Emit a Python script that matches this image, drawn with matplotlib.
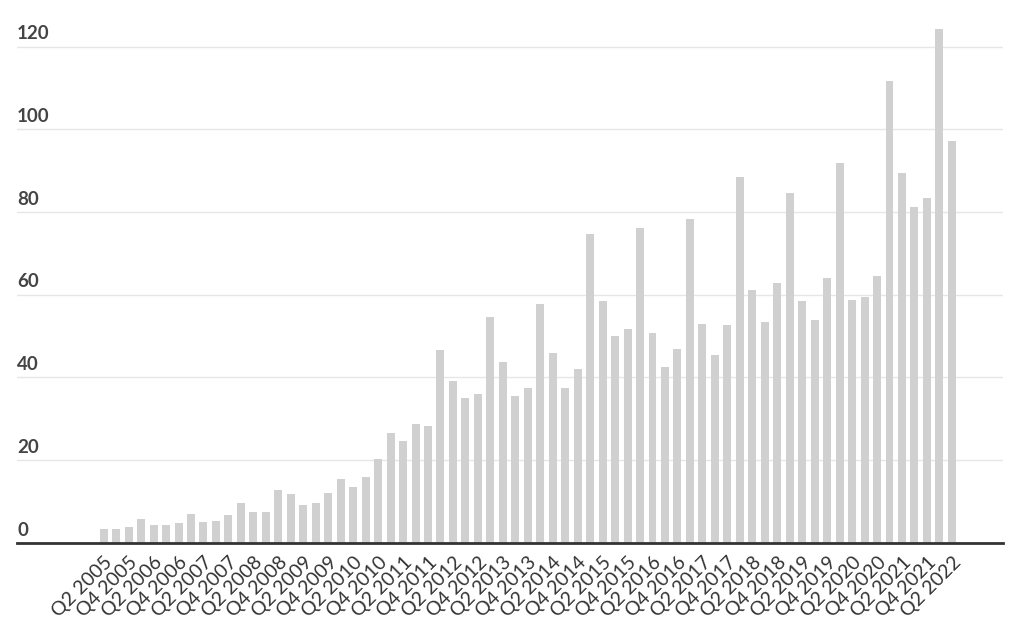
import matplotlib

matplotlib.use("Agg")
import matplotlib.pyplot as plt
import matplotlib.transforms as mtransforms

plt.rcParams["font.family"] = ["Lato", "DejaVu Sans"]

# quarterly counts, Q2 2005 .. Q2 2022
values = [
    3.3, 3.3, 3.7, 5.7, 4.4, 4.4, 4.7, 7.0, 5.0, 5.3,
    6.7, 9.7, 7.4, 7.4, 12.7, 11.7, 9.1, 9.7, 12.1, 15.4,
    13.4, 15.8, 20.2, 26.6, 24.5, 28.6, 28.3, 46.5, 39.1, 35.1,
    36.0, 54.7, 43.8, 35.4, 37.4, 57.7, 45.9, 37.4, 42.1, 74.6,
    58.4, 49.9, 51.6, 76.0, 50.6, 42.5, 46.9, 78.3, 53.0, 45.5,
    52.6, 88.5, 61.1, 53.3, 62.8, 84.5, 58.4, 53.9, 64.1, 91.8,
    58.6, 59.4, 64.5, 111.7, 89.4, 81.3, 83.3, 124.2, 97.2,
]
quarters = [f"Q{(1 + i) % 4 + 1} {2005 + (1 + i) // 4}" for i in range(len(values))]
y_ticks = [0, 20, 40, 60, 80, 100, 120]

W, H = 1024, 629
fig = plt.figure(figsize=(W / 100, H / 100), dpi=100)
px_per_unit = 4.135
ax = fig.add_axes([17 / W, 1 - 542.7 / H, 986 / W, 128 * px_per_unit / H])

x = list(range(len(values)))
ax.bar(x, values, width=0.64, color="#d0d0d0", zorder=2)
ax.set_xlim(-6.95, 72.1)
ax.set_ylim(0, 128)

for s in ["top", "right", "left"]:
    ax.spines[s].set_visible(False)
ax.spines["bottom"].set_color("#333333")
ax.spines["bottom"].set_linewidth(2)
ax.spines["bottom"].set_zorder(3)

ax.set_yticks(y_ticks)
ax.set_yticklabels([])
ax.tick_params(axis="y", length=0)
ax.grid(axis="y", color="#e6e6e6", linewidth=1, zorder=0)

trans = mtransforms.blended_transform_factory(ax.transAxes, ax.transData)
offset = mtransforms.ScaledTranslation(0, 3 / 72, fig.dpi_scale_trans)
for v in y_ticks:
    ax.text(0, v, str(v), transform=trans + offset, ha="left", va="bottom",
            fontsize=13.5, color="#444444", fontweight="bold")

ax.set_xticks(x[::2])
ax.set_xticklabels(quarters[::2], rotation=45, ha="right", va="top",
                   rotation_mode="anchor", fontsize=14, color="#333333")
ax.tick_params(axis="x", length=0, pad=8)

fig.savefig("out.png", dpi=100)
